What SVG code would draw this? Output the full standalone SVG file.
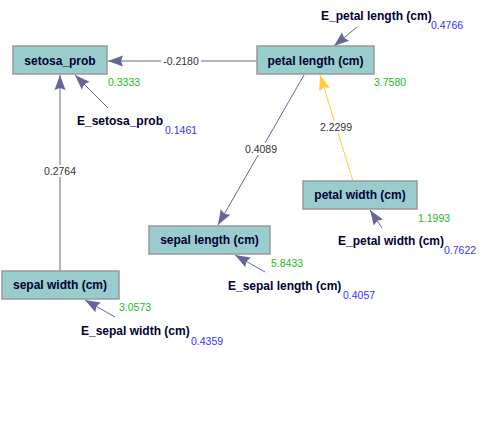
<svg xmlns="http://www.w3.org/2000/svg" width="482" height="433" viewBox="0 0 482 433">
<style>
.box{fill:#99CCCC;stroke:#999999;stroke-width:1.5}
.nl{font-family:"Liberation Sans",Arial,sans-serif;font-weight:bold;font-size:12px;fill:#000033}
.el{font-family:"Liberation Sans",Arial,sans-serif;font-size:10.5px;fill:#333333;text-anchor:middle}
.gr{font-family:"Liberation Sans",Arial,sans-serif;font-size:10.5px;fill:#22BB22}
.bl{font-family:"Liberation Sans",Arial,sans-serif;font-size:10.5px;fill:#3333FF}
.e{stroke:#666699;stroke-width:1;fill:none;marker-end:url(#ah)}
.y{stroke:#FFCC33;stroke-width:1;fill:none;marker-end:url(#ahy)}
.bg{fill:#FFFFFF}
</style>
<defs>
<marker id="ah" viewBox="-16 -7 17 14" refX="0" refY="0" markerWidth="17" markerHeight="14" markerUnits="userSpaceOnUse" orient="auto">
<path d="M0,0 L-15,-5.5 L-13,0 L-15,5.5 Z" fill="#666699"/>
</marker>
<marker id="ahy" viewBox="-16 -7 17 14" refX="0" refY="0" markerWidth="17" markerHeight="14" markerUnits="userSpaceOnUse" orient="auto">
<path d="M0,0 L-15,-5.5 L-13,0 L-15,5.5 Z" fill="#FFCC33"/>
</marker>
</defs>
<rect width="482" height="433" fill="#FFFFFF"/>
<g id="connectors">
<line class="e" x1="257" y1="61" x2="108" y2="61"/>
<rect class="bg" x="161" y="55" width="40" height="12"/>
<text class="el" x="181" y="65">-0.2180</text>
<line class="e" x1="60" y1="271" x2="60" y2="75"/>
<rect class="bg" x="43" y="165" width="34" height="12"/>
<text class="el" x="60" y="175">0.2764</text>
<line class="e" x1="304" y1="75" x2="218" y2="225"/>
<rect class="bg" x="244" y="143" width="34" height="12"/>
<text class="el" x="261" y="153">0.4089</text>
<line class="y" x1="353" y1="181" x2="320" y2="75"/>
<rect class="bg" x="319" y="121" width="34" height="12"/>
<text class="el" x="336" y="131">2.2299</text>
<line class="e" x1="108" y1="108" x2="75" y2="75"/>
<line class="e" x1="357" y1="27" x2="334" y2="46"/>
<line class="e" x1="382" y1="228" x2="370" y2="210"/>
<line class="e" x1="265" y1="272" x2="235" y2="255"/>
<line class="e" x1="115" y1="317" x2="85" y2="300"/>
</g>
<g id="setosa_prob">
<rect class="box" x="13" y="46" width="94" height="28"/>
<text class="nl" x="60" y="65" text-anchor="middle">setosa_prob</text>
<text class="gr" x="108" y="86">0.3333</text>
</g>
<g id="E_setosa_prob">
<text class="nl" x="77" y="125">E_setosa_prob</text>
<text class="bl" x="165" y="134">0.1461</text>
</g>
<g id="petal_length">
<rect class="box" x="257" y="46" width="117" height="28"/>
<text class="nl" x="315.5" y="65" text-anchor="middle">petal length (cm)</text>
<text class="gr" x="374" y="86">3.7580</text>
</g>
<g id="E_petal_length">
<text class="nl" x="321" y="20">E_petal length (cm)</text>
<text class="bl" x="431" y="29">0.4766</text>
</g>
<g id="petal_width">
<rect class="box" x="303" y="181" width="114" height="28"/>
<text class="nl" x="360" y="199" text-anchor="middle">petal width (cm)</text>
<text class="gr" x="418" y="221.5">1.1993</text>
</g>
<g id="E_petal_width">
<text class="nl" x="338" y="245">E_petal width (cm)</text>
<text class="bl" x="444" y="254">0.7622</text>
</g>
<g id="sepal_length">
<rect class="box" x="149" y="226" width="121" height="28"/>
<text class="nl" x="209.5" y="244" text-anchor="middle">sepal length (cm)</text>
<text class="gr" x="271" y="266.5">5.8433</text>
</g>
<g id="E_sepal_length">
<text class="nl" x="228" y="290">E_sepal length (cm)</text>
<text class="bl" x="343" y="299">0.4057</text>
</g>
<g id="sepal_width">
<rect class="box" x="2" y="271" width="117" height="28"/>
<text class="nl" x="60" y="289" text-anchor="middle">sepal width (cm)</text>
<text class="gr" x="119" y="311">3.0573</text>
</g>
<g id="E_sepal_width">
<text class="nl" x="81" y="335">E_sepal width (cm)</text>
<text class="bl" x="191" y="345">0.4359</text>
</g>
</svg>
